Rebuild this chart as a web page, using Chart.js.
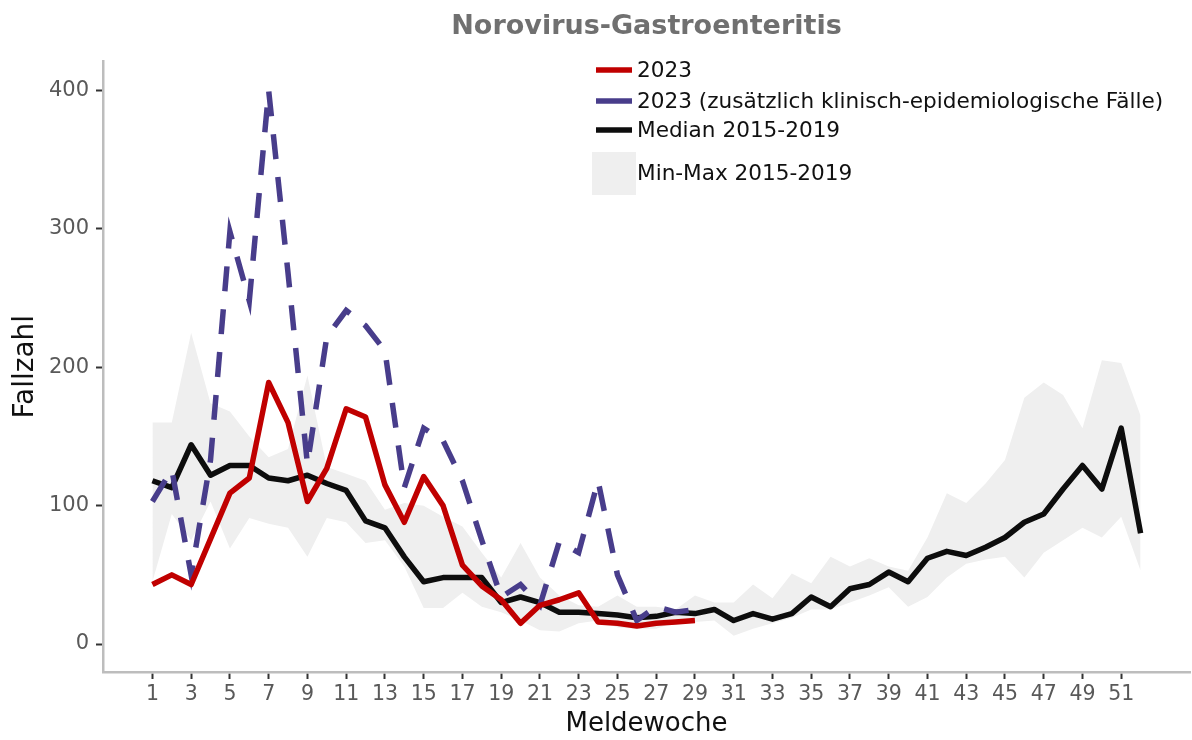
<!DOCTYPE html>
<html lang="de">
<head>
<meta charset="utf-8">
<title>Norovirus-Gastroenteritis</title>
<script src="https://cdn.jsdelivr.net/npm/chart.js@4.4.1/dist/chart.umd.min.js"></script>
<style>
  html, body { margin:0; padding:0; background:#fff; }
  #wrap { width:1192px; height:740px; }
</style>
</head>
<body>
<div id="wrap"><canvas id="noroChart" width="1192" height="740"></canvas></div>
<script>
// Meldewochen
const WEEKS = [1,2,3,4,5,6,7,8,9,10,11,12,13,14,15,16,17,18,19,20,21,22,23,24,25,26,
  27,28,29,30,31,32,33,34,35,36,37,38,39,40,41,42,43,44,45,46,47,48,49,50,51,52];
const X_TICKS = [1,3,5,7,9,11,13,15,17,19,21,23,25,27,29,31,33,35,37,39,41,43,45,47,49,51];
const Y_TICKS = [0,100,200,300,400];

// 2023 (bis KW 29)
const FAELLE_2023 = [43,50,43,76,109,120,189,160,103,127,170,164,115,88,121,100,57,42,32,15,
  28,32,37,16,15,13,15,16,17];
const FAELLE_2023_KLIN = [103,126,50,133,298,248,400,268,130,222,241,230,212,113,156,147,118,75,34,43,
  28,74,66,118,50,17,27,23,25];

// Referenz 2015-2019
const MEDIAN_15_19 = [118,113,144,122,129,129,120,118,122,116,111,89,84,63,45,48,48,48,30,34,
  30,23,23,22,21,19,20,23,22,25,17,22,18,22,34,27,40,43,52,45,62,67,64,70,77,88,94,112,129,112,156,80];
const MAX_15_19 = [160,160,225,174,168,150,135,141,194,128,123,118,97,102,100,92,85,66,48,73,
  48,35,28,27,35,27,27,25,35,30,30,43,33,51,44,63,56,62,56,53,77,109,102,116,133,178,189,180,156,205,203,165];
const MIN_15_19 = [45,94,75,103,69,91,87,84,63,91,88,73,75,56,26,26,37,27,23,17,
  10,9,15,17,12,11,11,16,16,17,6,11,15,19,25,25,30,35,41,27,34,48,58,61,63,48,66,75,84,77,92,53];

const FONT = '"DejaVu Sans", Lato, sans-serif';
const C_RED = '#c00000', C_PURPLE = '#483d8b', C_BLACK = '#0d0d0d', C_BAND = '#efefef';

const pts = arr => arr.map((v, i) => ({ x: WEEKS[i], y: v }));

// legend inside the panel, top right
const panelLegend = {
  id: 'panelLegend',
  afterDraw(chart) {
    const c = chart.ctx;
    const rows = [
      { type:'line', color:C_RED, text:'2023', y:70 },
      { type:'line', color:C_PURPLE, text:'2023 (zusätzlich klinisch-epidemiologische Fälle)', y:101 },
      { type:'line', color:C_BLACK, text:'Median 2015-2019', y:130 },
      { type:'box', color:C_BAND, text:'Min-Max 2015-2019', y:173 },
    ];
    c.save();
    c.font = '21.6px ' + FONT;
    c.textBaseline = 'middle';
    rows.forEach(r => {
      if (r.type === 'line') {
        c.strokeStyle = r.color; c.lineWidth = 5.5; c.lineCap = 'butt';
        c.beginPath(); c.moveTo(596, r.y); c.lineTo(632, r.y); c.stroke();
      } else {
        c.fillStyle = r.color; c.fillRect(592, 152, 44, 43);
      }
      c.fillStyle = '#111';
      c.fillText(r.text, 637, r.y + 1);
    });
    c.restore();
  }
};

new Chart(document.getElementById('noroChart'), {
  type: 'line',
  data: {
    datasets: [
      { label:'Max', data:pts(MAX_15_19), borderWidth:0, pointRadius:0, fill:'+1', backgroundColor:C_BAND, order:5 },
      { label:'Min', data:pts(MIN_15_19), borderWidth:0, pointRadius:0, fill:false, order:6 },
      { label:'Median 2015-2019', data:pts(MEDIAN_15_19), borderColor:C_BLACK, borderWidth:5.5, pointRadius:0, borderJoinStyle:'round', order:3 },
      { label:'2023 (zusätzlich klinisch-epidemiologische Fälle)', data:pts(FAELLE_2023_KLIN), borderColor:C_PURPLE, borderWidth:5.5, borderDash:[25,18], borderCapStyle:'butt', pointRadius:0, order:2 },
      { label:'2023', data:pts(FAELLE_2023), borderColor:C_RED, borderWidth:5.5, pointRadius:0, borderJoinStyle:'round', order:1 },
    ]
  },
  options: {
    responsive:false, animation:false, devicePixelRatio:1,
    layout:{ padding:{ left:0, right:2, top:0, bottom:0 } },
    plugins:{
      legend:{ display:false },
      tooltip:{ enabled:false },
      title:{ display:true, text:'Norovirus-Gastroenteritis', fullSize:false, color:'#707070',
        font:{ family:FONT, size:27, weight:'bold', lineHeight:1.2 }, padding:{ top:11, bottom:18 } },
    },
    scales:{
      x:{
        type:'linear', min:-1.55, max:54.55,
        afterBuildTicks: s => { s.ticks = X_TICKS.map(v => ({ value:v })); },
        afterFit: s => { s.height = 68; },
        grid:{ drawOnChartArea:false, drawTicks:true, tickLength:7, tickColor:'#333', tickWidth:2 },
        border:{ color:'#bdbdbd', width:2.5 },
        ticks:{ autoSkip:false, maxRotation:0, padding:3, color:'#595959', font:{ family:FONT, size:20.5 } },
        title:{ display:true, text:'Meldewoche', color:'#111', font:{ family:FONT, size:26 }, padding:{ top:0, bottom:0 } },
      },
      y:{
        min:-20.2, max:421,
        afterBuildTicks: s => { s.ticks = Y_TICKS.map(v => ({ value:v })); },
        afterFit: s => { s.width = 103; },
        grid:{ drawOnChartArea:false, drawTicks:true, tickLength:7, tickColor:'#333', tickWidth:2 },
        border:{ color:'#bdbdbd', width:2.5 },
        ticks:{ padding:7, color:'#595959', font:{ family:FONT, size:21 } },
        title:{ display:true, text:'Fallzahl', color:'#111', font:{ family:FONT, size:28 }, padding:{ top:9, bottom:0 } },
      },
    },
  },
  plugins:[panelLegend],
});
</script>
</body>
</html>
